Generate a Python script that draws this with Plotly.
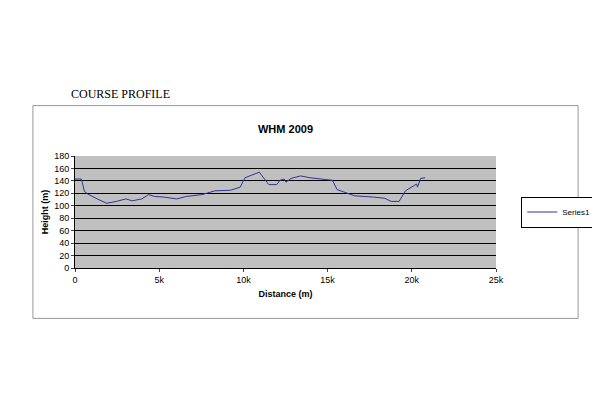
import plotly.graph_objects as go

distance = [0,377,566,755,1321,1887,2453,3019,3396,3962,4377,4717,5283,6038,6604,7547,8302,9245,9811,10094,10943,11509,11981,12170,12415,12528,12830,13396,13962,15283,15566,16038,16604,17736,18396,18774,19245,19623,20000,20283,20340,20528,20792]
height = [143,143,123,119,111,104,107,111,108,111,118,115,114,111,115,118,124,125,130,145,154,134,134,141,143,138,144,148,145,141,126,122,116,114,112,107,107,124,130,135,130,144,145]

fig = go.Figure(go.Scatter(x=distance, y=height, mode="lines", name="Series1",
                           line=dict(color="#333399", width=1)))
fig.update_layout(
    width=600, height=400, paper_bgcolor="white", plot_bgcolor="#c0c0c0",
    margin=dict(l=67, r=94, t=148, b=140),
    font=dict(family="Liberation Sans, Arial", size=9, color="black"),
    title=dict(text="<b>WHM 2009</b>", x=0.5, xref="paper", y=0.6975, yref="container",
               yanchor="middle", font=dict(size=11)),
    showlegend=True,
    legend=dict(x=1.06, y=0.5, yanchor="middle", xanchor="left",
                bordercolor="black", borderwidth=1, font=dict(size=8)),
    xaxis=dict(range=[0, 25000], dtick=5000, showgrid=False, showline=True, linecolor="black",
               ticks="outside", ticklen=3, zeroline=False,
               title=dict(text="<b>Distance (m)</b>", font=dict(size=9), standoff=6)),
    yaxis=dict(range=[0, 180], dtick=20, showgrid=True, gridcolor="black", gridwidth=1,
               showline=True, linecolor="black", ticks="outside", ticklen=3, zeroline=False,
               title=dict(text="<b>Height (m)</b>", font=dict(size=9), standoff=4)),
    shapes=[dict(type="rect", xref="paper", yref="paper", x0=-0.1, x1=1.195, y0=-0.45, y1=1.45,
                 line=dict(color="#999999", width=1))],
    annotations=[dict(text="COURSE PROFILE", xref="paper", yref="paper", x=-0.015, y=1.63,
                      showarrow=False, xanchor="left", font=dict(size=12, family="Liberation Sans Narrow, Arial Narrow"))],
)
fig.write_html("out.html")
